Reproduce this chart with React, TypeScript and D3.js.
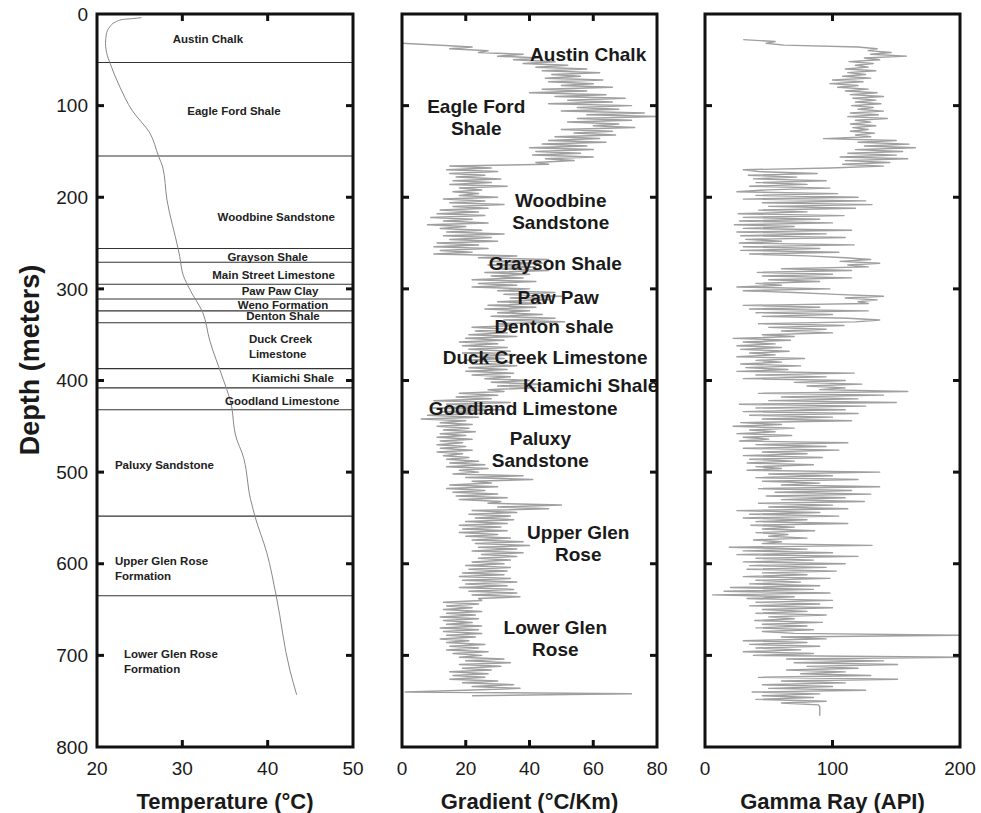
import React, { useRef, useEffect } from 'react';
import * as d3 from 'd3';

// Well log: temperature, gradient and gamma ray vs depth

const WIDTH = 981;
const HEIGHT = 813;

// formation boundaries (m)
const boundaries = [53, 155, 256, 271, 295, 311, 324, 337, 387, 408, 432, 548, 635];

// temperature profile
const tempDepths = [4, 5, 6, 9, 14, 22, 32, 45, 53, 80, 105, 130, 155, 167, 203, 256, 265, 285, 301, 326, 356, 399, 421, 465, 479, 530, 548, 588, 635, 716, 743];
const tempValues = [25.2, 24.2, 23.0, 22.1, 21.5, 21.1, 21.0, 21.2, 21.5, 22.7, 24.1, 26.2, 27.2, 27.7, 28.2, 29.5, 29.7, 30.1, 30.9, 32.4, 33.2, 34.8, 35.6, 36.4, 37.0, 38.0, 38.5, 39.9, 41.0, 42.6, 43.4];

// gradient (°C/km), sampled every 2 m from 32 m
const gradientTop = 32;
const gradientStep = 2;
const gradientValues = [
  0, 12, 22, 15, 27, 24, 38, 30, 43, 35,
  48, 38, 52, 42, 58, 44, 62, 47, 56, 45,
  63, 46, 60, 50, 66, 44, 58, 40, 64, 48,
  70, 52, 66, 46, 72, 55, 68, 50, 76, 58,
  80, 55, 72, 52, 68, 60, 73, 50, 66, 54,
  67, 48, 62, 46, 64, 44, 58, 40, 60, 42,
  56, 41, 60, 45, 54, 42, 46, 15, 28, 14,
  30, 15, 26, 17, 31, 16, 28, 15, 33, 18,
  25, 16, 24, 18, 30, 13, 26, 15, 32, 16,
  27, 12, 24, 11, 26, 9, 22, 13, 27, 8,
  20, 12, 25, 14, 32, 13, 28, 15, 30, 11,
  24, 10, 27, 12, 22, 10, 36, 24, 46, 28,
  44, 27, 42, 30, 46, 26, 40, 28, 38, 22,
  42, 24, 36, 22, 40, 30, 48, 32, 50, 34,
  46, 30, 44, 27, 42, 26, 40, 30, 44, 28,
  48, 32, 51, 30, 36, 22, 34, 23, 33, 21,
  36, 20, 32, 18, 30, 19, 33, 21, 34, 19,
  36, 22, 32, 20, 34, 22, 36, 21, 33, 20,
  35, 22, 34, 26, 40, 28, 44, 30, 42, 27,
  32, 18, 30, 17, 28, 10, 34, 14, 30, 9,
  32, 12, 26, 8, 24, 6, 20, 12, 22, 11,
  21, 13, 23, 12, 20, 11, 22, 12, 19, 11,
  20, 12, 22, 11, 19, 13, 21, 14, 24, 15,
  26, 14, 27, 18, 24, 16, 38, 20, 41, 22,
  28, 15, 30, 14, 26, 16, 30, 17, 33, 18,
  31, 27, 50, 30, 46, 22, 36, 21, 34, 23,
  35, 20, 33, 18, 31, 19, 33, 18, 30, 20,
  34, 22, 38, 23, 40, 24, 36, 22, 38, 25,
  36, 24, 34, 22, 32, 20, 34, 21, 33, 19,
  32, 18, 34, 19, 36, 20, 33, 18, 35, 21,
  36, 22, 37, 24, 25, 13, 24, 14, 22, 13,
  25, 14, 23, 12, 24, 13, 22, 14, 25, 12,
  24, 13, 25, 14, 23, 12, 21, 14, 26, 15,
  24, 14, 27, 16, 25, 18, 32, 20, 34, 18,
  31, 19, 28, 15, 27, 16, 26, 15, 30, 19,
  35, 22, 37, 20, 1, 72, 22,
];

// gamma ray (API), sampled every 2 m from 28 m
const gammaTop = 28;
const gammaStep = 2;
const gammaValues = [
  30, 55, 48, 62, 120, 135, 128, 146, 130, 158,
  125, 137, 113, 132, 118, 128, 110, 134, 112, 126,
  108, 130, 100, 124, 98, 120, 104, 128, 110, 135,
  114, 140, 116, 134, 118, 138, 115, 132, 120, 140,
  114, 136, 112, 143, 118, 130, 114, 134, 116, 128,
  114, 133, 118, 130, 93, 150, 120, 160, 125, 165,
  118, 155, 112, 150, 106, 159, 110, 145, 108, 140,
  98, 30, 42, 88, 34, 72, 38, 95, 40, 80,
  35, 98, 48, 25, 104, 40, 120, 30, 126, 45,
  131, 50, 118, 42, 80, 26, 109, 30, 90, 27,
  100, 23, 70, 30, 115, 25, 95, 28, 110, 32,
  60, 27, 117, 30, 90, 28, 105, 35, 80, 110,
  130, 106, 137, 112, 128, 60, 115, 41, 100, 45,
  115, 50, 90, 40, 60, 25, 98, 30, 70, 103,
  140, 110, 135, 120, 128, 30, 90, 35, 128, 40,
  100, 45, 112, 137, 118, 42, 109, 50, 95, 60,
  100, 45, 70, 22, 67, 30, 55, 25, 60, 28,
  66, 35, 55, 25, 78, 40, 60, 28, 75, 32,
  65, 25, 117, 40, 95, 30, 110, 70, 123, 80,
  110, 90, 159, 42, 140, 60, 120, 50, 150, 27,
  126, 40, 110, 30, 120, 35, 100, 45, 115, 28,
  60, 22, 70, 35, 55, 25, 68, 30, 50, 27,
  112, 40, 95, 30, 105, 45, 80, 30, 92, 35,
  70, 33, 85, 40, 60, 33, 137, 50, 100, 40,
  120, 45, 90, 60, 137, 42, 115, 55, 130, 48,
  110, 60, 125, 42, 100, 50, 112, 25, 90, 35,
  105, 30, 80, 40, 112, 36, 70, 45, 86, 40,
  65, 50, 80, 38, 60, 45, 131, 19, 80, 30,
  100, 25, 120, 40, 85, 30, 110, 35, 95, 33,
  103, 45, 80, 30, 98, 40, 75, 35, 90, 20,
  85, 15, 98, 6, 70, 33, 100, 40, 90, 35,
  100, 45, 80, 40, 95, 50, 70, 39, 92, 45,
  80, 40, 85, 45, 70, 200, 60, 95, 30, 80,
  35, 90, 40, 75, 30, 85, 38, 200, 64, 140,
  70, 151, 80, 120, 64, 110, 75, 130, 42, 151,
  60, 110, 45, 100, 50, 126, 37, 90, 45, 85,
  40, 95, 60, 89, 90, 90, 90, 90, 90, 90,
];

// formation names, panel 1 (temperature units / depth)
const tempLabels = [
  { lines: ['Austin Chalk'], t: 33.0, d: 27, anchor: 'middle' },
  { lines: ['Eagle Ford Shale'], t: 36.05, d: 106, anchor: 'middle' },
  { lines: ['Woodbine Sandstone'], t: 41.0, d: 221.5, anchor: 'middle' },
  { lines: ['Grayson Shale'], t: 40.0, d: 265, anchor: 'middle' },
  { lines: ['Main Street Limestone'], t: 40.7, d: 285, anchor: 'middle' },
  { lines: ['Paw Paw Clay'], t: 41.45, d: 302, anchor: 'middle' },
  { lines: ['Weno Formation'], t: 41.8, d: 317.6, anchor: 'middle' },
  { lines: ['Denton Shale'], t: 41.8, d: 329.6, anchor: 'middle' },
  { lines: ['Duck Creek', 'Limestone'], t: 37.8, d: 354.7, anchor: 'start' },
  { lines: ['Kiamichi Shale'], t: 42.97, d: 397, anchor: 'middle' },
  { lines: ['Goodland Limestone'], t: 41.7, d: 422, anchor: 'middle' },
  { lines: ['Paluxy Sandstone'], t: 22.1, d: 492, anchor: 'start' },
  { lines: ['Upper Glen Rose', 'Formation'], t: 22.1, d: 597, anchor: 'start' },
  { lines: ['Lower Glen Rose', 'Formation'], t: 23.16, d: 698.5, anchor: 'start' },
];

// formation names, panel 2 (gradient units / depth)
const gradientLabels = [
  { lines: ['Austin Chalk'], g: 58.4, d: 43.7 },
  { lines: ['Eagle Ford', 'Shale'], g: 23.3, d: 100.4 },
  { lines: ['Woodbine', 'Sandstone'], g: 49.8, d: 203 },
  { lines: ['Grayson Shale'], g: 48.1, d: 271.7 },
  { lines: ['Paw Paw'], g: 49, d: 308.8 },
  { lines: ['Denton shale'], g: 47.7, d: 340.5 },
  { lines: ['Duck Creek Limestone'], g: 44.9, d: 374.3 },
  { lines: ['Kiamichi Shale'], g: 59.2, d: 405 },
  { lines: ['Goodland Limestone'], g: 38, d: 430 },
  { lines: ['Paluxy', 'Sandstone'], g: 43.4, d: 462.7 },
  { lines: ['Upper Glen', 'Rose'], g: 55.3, d: 566 },
  { lines: ['Lower Glen', 'Rose'], g: 48.1, d: 669 },
];

const depthTicks = [0, 100, 200, 300, 400, 500, 600, 700, 800];
const tempTicks = [20, 30, 40, 50];
const gradientTicks = [0, 20, 40, 60, 80];
const gammaTicks = [0, 100, 200];

const FONT = 'Liberation Sans, Arial, Helvetica, sans-serif';
const TRACE = '#a0a0a0';

export default function App() {
  const svgRef = useRef<SVGSVGElement>(null);

  useEffect(() => {
    const svg = d3.select(svgRef.current);
    svg.selectAll('*').remove();

    const top = 14, bottom = 747;
    const y = d3.scaleLinear().domain([0, 800]).range([top, bottom]);

    const xT = d3.scaleLinear().domain([20, 50]).range([97, 353]);
    const xG = d3.scaleLinear().domain([0, 80]).range([402, 657]);
    const xR = d3.scaleLinear().domain([0, 200]).range([705, 960]);

    const panels = [
      { x: xT, ticks: tempTicks, title: 'Temperature (°C)' },
      { x: xG, ticks: gradientTicks, title: 'Gradient (°C/Km)' },
      { x: xR, ticks: gammaTicks, title: 'Gamma Ray (API)' },
    ];

    // formation lines (panel 1)
    svg.append('g')
      .selectAll('line')
      .data(boundaries)
      .enter()
      .append('line')
      .attr('x1', xT(20))
      .attr('x2', xT(50))
      .attr('y1', d => y(d))
      .attr('y2', d => y(d))
      .attr('stroke', '#333')
      .attr('stroke-width', 1.1);

    // temperature curve
    const tempPts = tempDepths.map((d, i) => [tempValues[i], d] as [number, number]);
    svg.append('path')
      .datum(tempPts)
      .attr('fill', 'none')
      .attr('stroke', '#888')
      .attr('stroke-width', 1)
      .attr('d', d3.line<[number, number]>().x(p => xT(p[0])).y(p => y(p[1])).curve(d3.curveMonotoneY));

    // gradient trace
    const gradPts = gradientValues.map((v, i) => [v, gradientTop + i * gradientStep] as [number, number]);
    svg.append('path')
      .datum(gradPts)
      .attr('fill', 'none')
      .attr('stroke', TRACE)
      .attr('stroke-width', 1.5)
      .attr('stroke-linejoin', 'round')
      .attr('d', d3.line<[number, number]>().x(p => xG(p[0])).y(p => y(p[1])));

    // gamma trace
    const gamPts = gammaValues.map((v, i) => [v, gammaTop + i * gammaStep] as [number, number]);
    svg.append('path')
      .datum(gamPts)
      .attr('fill', 'none')
      .attr('stroke', TRACE)
      .attr('stroke-width', 1.4)
      .attr('stroke-linejoin', 'round')
      .attr('d', d3.line<[number, number]>().x(p => xR(p[0])).y(p => y(p[1])));

    // panel 1 formation labels
    tempLabels.forEach(l => {
      l.lines.forEach((line, j) => {
        svg.append('text')
          .attr('x', xT(l.t))
          .attr('y', y(l.d) + j * 15)
          .attr('dy', '0.35em')
          .attr('text-anchor', l.anchor)
          .style('font-family', FONT)
          .style('font-weight', 'bold')
          .style('font-size', '11.5px')
          .style('fill', '#222')
          .text(line);
      });
    });

    // panel 2 formation labels
    gradientLabels.forEach(l => {
      l.lines.forEach((line, j) => {
        svg.append('text')
          .attr('x', xG(l.g))
          .attr('y', y(l.d) + j * 22)
          .attr('dy', '0.35em')
          .attr('text-anchor', 'middle')
          .style('font-family', FONT)
          .style('font-weight', 'bold')
          .style('font-size', '19px')
          .style('fill', '#1a1a1a')
          .text(line);
      });
    });

    // frames, ticks and axis labels
    panels.forEach((p, pi) => {
      const [x0, x1] = p.x.range();
      const g = svg.append('g');
      g.append('rect')
        .attr('x', x0).attr('y', top)
        .attr('width', x1 - x0).attr('height', bottom - top)
        .attr('fill', 'none')
        .attr('stroke', '#111')
        .attr('stroke-width', 3);

      const inner = p.ticks.slice(1, -1);
      inner.forEach(t => {
        g.append('line').attr('x1', p.x(t)).attr('x2', p.x(t)).attr('y1', top).attr('y2', top + 7)
          .attr('stroke', '#111').attr('stroke-width', 3);
        g.append('line').attr('x1', p.x(t)).attr('x2', p.x(t)).attr('y1', bottom).attr('y2', bottom - 7)
          .attr('stroke', '#111').attr('stroke-width', 3);
      });
      depthTicks.slice(1, -1).forEach(t => {
        g.append('line').attr('x1', x0).attr('x2', x0 + 7).attr('y1', y(t)).attr('y2', y(t))
          .attr('stroke', '#111').attr('stroke-width', 3);
        g.append('line').attr('x1', x1).attr('x2', x1 - 7).attr('y1', y(t)).attr('y2', y(t))
          .attr('stroke', '#111').attr('stroke-width', 3);
      });

      g.selectAll('.xlab')
        .data(p.ticks)
        .enter()
        .append('text')
        .attr('x', d => p.x(d))
        .attr('y', 768)
        .attr('dy', '0.35em')
        .attr('text-anchor', 'middle')
        .style('font-family', FONT)
        .style('font-size', '19px')
        .style('fill', '#1a1a1a')
        .text(d => String(d));

      g.append('text')
        .attr('x', (x0 + x1) / 2)
        .attr('y', 801)
        .attr('dy', '0.35em')
        .attr('text-anchor', 'middle')
        .style('font-family', FONT)
        .style('font-weight', 'bold')
        .style('font-size', '22px')
        .style('fill', '#1a1a1a')
        .text(p.title);

      if (pi === 0) {
        g.selectAll('.ylab')
          .data(depthTicks)
          .enter()
          .append('text')
          .attr('x', 88)
          .attr('y', d => y(d))
          .attr('dy', '0.35em')
          .attr('text-anchor', 'end')
          .style('font-family', FONT)
          .style('font-size', '19px')
          .style('fill', '#1a1a1a')
          .text(d => String(d));
      }
    });

    svg.append('text')
      .attr('transform', `translate(30, 360) rotate(-90)`)
      .attr('dy', '0.35em')
      .attr('text-anchor', 'middle')
      .style('font-family', FONT)
      .style('font-weight', 'bold')
      .style('font-size', '27px')
      .style('fill', '#1a1a1a')
      .text('Depth (meters)');
  }, []);

  return (
    <svg
      ref={svgRef}
      width={WIDTH}
      height={HEIGHT}
      viewBox={`0 0 ${WIDTH} ${HEIGHT}`}
      style={{ position: 'absolute', left: 0, top: 0, background: '#fff' }}
    />
  );
}
